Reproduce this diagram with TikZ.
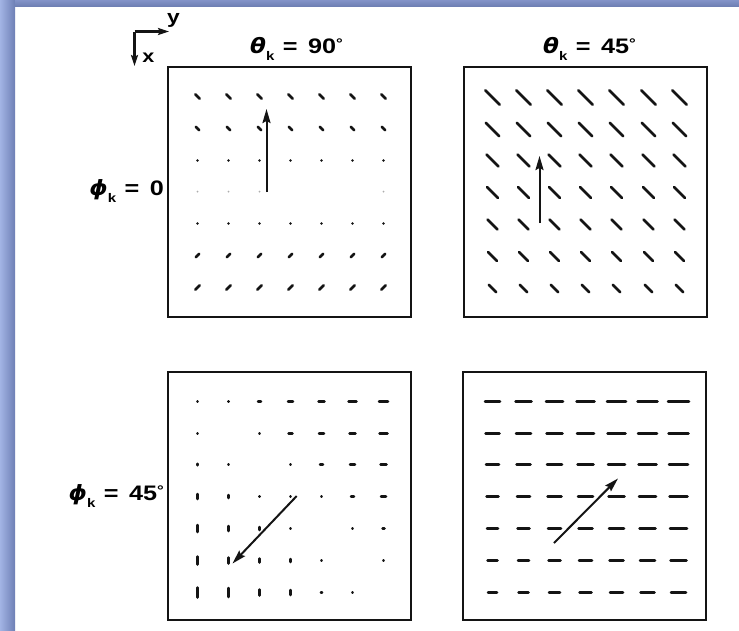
\documentclass[tikz,border=0pt]{standalone}
\usepackage{fontspec}
\setmainfont{Liberation Sans}
\newfontfamily\lab[FakeStretch=1.2]{Liberation Sans}
\newfontfamily\grk[FakeStretch=1.1]{DejaVu Sans}
\usetikzlibrary{arrows.meta}
\definecolor{bandL}{HTML}{A2B4E4}
\definecolor{bandD}{HTML}{6E7FB5}
\definecolor{topA}{HTML}{8393C8}
\definecolor{topB}{HTML}{6F80B4}
\definecolor{ink}{HTML}{141414}
\newcommand\degsym{\raisebox{4.5pt}{\fontsize{14}{14}\selectfont °}}
\newcommand\sublbl[2]{{\grk\bfseries\itshape #1}\raisebox{-7pt}{\lab\bfseries\fontsize{12.5}{12.5}\selectfont k}\hspace{0.4em}{\lab\bfseries =}\hspace{0.5em}{\lab\bfseries #2}}
\begin{document}
\begin{tikzpicture}[x=1pt,y=-1pt,
  frame/.style={draw=ink,line width=2pt},
  dsh/.style={draw=ink,line width=2.5pt,line cap=round},
  kvec/.style={draw=ink,line width=2pt,-{Stealth[length=14pt,width=8pt,inset=2pt]}},
  axis/.style={draw=ink,line width=2.2pt,-{Stealth[length=11pt,width=7pt,inset=2pt]}},
  txt/.style={inner sep=0pt,font=\lab\bfseries\fontsize{21}{21}\selectfont}]
\useasboundingbox (0,0) rectangle (739,630);
\fill[white] (0,0) rectangle (739,630);
\shade[left color=bandL,right color=bandD] (0,0) rectangle (15,630);
\shade[top color=topA,bottom color=topB] (15,0) rectangle (739,6);

% axes icon
\coordinate (o) at (134.5,31.5);
\coordinate (ye) at (169,31.5);
\coordinate (xe) at (134.5,66);
\draw[axis] (o) -- (ye);
\draw[axis] (o) -- (xe);
\node[inner sep=0pt,font=\lab\bfseries\fontsize{19}{19}\selectfont] (ylab) at (173.5,20) {y};
\node[inner sep=0pt,font=\lab\bfseries\fontsize{18}{18}\selectfont] (xlab) at (148.5,58) {x};

% labels
\node[txt,anchor=base] (t90) at (296.5,53) {\sublbl{θ}{90\degsym}};
\node[txt,anchor=base] (t45) at (589.5,53) {\sublbl{θ}{45\degsym}};
\node[txt,anchor=base east] (p0) at (164,195) {\sublbl{ϕ}{0}};
\node[txt,anchor=base east] (p45) at (164,500) {\sublbl{ϕ}{45\degsym}};

% frames
\draw[frame] (168,67) rectangle (411,317);
\draw[frame] (464,67) rectangle (707,317);
\draw[frame] (168,372) rectangle (411,620);
\draw[frame] (463,372) rectangle (706,620);

% top-left: theta=90, phi=0
\foreach \r/\h in {1/2.2,2/1.8,6/1.8,7/2.3}{
  \foreach \c in {1,...,7}{
    \pgfmathsetmacro\xx{round(196.7+31*(\c-1))+0.5}
    \pgfmathsetmacro\yy{round(96+31.8*(\r-1))+0.5}
    \pgfmathsetmacro\sg{\r<4 ? 1 : -1}
    \draw[dsh] (\xx-\h,\yy-\sg*\h) -- (\xx+\h,\yy+\sg*\h);
  }
}
\foreach \r in {3,5}{
  \foreach \c in {1,...,7}{
    \pgfmathsetmacro\xx{round(196.7+31*(\c-1))+0.5}
    \pgfmathsetmacro\yy{round(96+31.8*(\r-1))+0.5}
    \fill[ink] (\xx,\yy) circle (1.3pt);
  }
}
\foreach \c in {1,2,3,7}{
  \pgfmathsetmacro\xx{round(196.7+31*(\c-1))+0.5}
  \fill[ink!35] (\xx,191.5) circle (1pt);
}

% top-right: theta=45, phi=0
\foreach \r/\h in {1/7.3,2/6.8,3/6.1,4/5.5,5/5.0,6/4.4,7/3.7}{
  \foreach \c in {1,...,7}{
    \pgfmathsetmacro\xx{round(491.7+31.2*(\c-1))+0.5}
    \pgfmathsetmacro\yy{round(96.7+31.8*(\r-1))+0.5}
    \draw[dsh] (\xx-\h,\yy-\h) -- (\xx+\h,\yy+\h);
  }
}

% bottom-left: theta=90, phi=45 (positive = horizontal, negative = vertical, 0 = none)
\foreach \r/\row in {1/{0.3,0.5,3,5,6,8,9},
                     2/{0.3,0,0.4,4,5,6,8},
                     3/{-1.5,0.4,0,0.4,3,5,6},
                     4/{-5,-3,0.5,0.3,0.4,3,5},
                     5/{-7,-5,-3,0.4,0,0.4,2},
                     6/{-8,-6,-4,-3,0.4,0,0.4},
                     7/{-10,-9,-6,-5,1.2,0.4,0}}{
  \foreach \L [count=\c] in \row {
    \pgfmathsetmacro\xx{round(196.7+31*(\c-1))+0.5}
    \pgfmathsetmacro\yy{round(400.7+31.8*(\r-1))+0.5}
    \pgfmathsetmacro\hl{abs(\L)/2}
    \ifdim \L pt>0pt
      \draw[dsh] (\xx-\hl,\yy) -- (\xx+\hl,\yy);
    \else\ifdim \L pt<0pt
      \draw[dsh] (\xx,\yy-\hl) -- (\xx,\yy+\hl);
    \fi\fi
  }
}

% bottom-right: theta=45, phi=45
\foreach \r in {1,...,7}{
  \foreach \c in {1,...,7}{
    \pgfmathsetmacro\xx{round(491.7+31*(\c-1))+0.5}
    \pgfmathsetmacro\yy{round(400.7+31.8*(\r-1))+0.5}
    \pgfmathsetmacro\hl{(15+\c-\r)/2}
    \draw[dsh] (\xx-\hl,\yy) -- (\xx+\hl,\yy);
  }
}

% k vectors
\coordinate (a1s) at (266.5,192);  \coordinate (a1e) at (266.5,109);
\coordinate (a2s) at (539.5,223);  \coordinate (a2e) at (539.5,156);
\coordinate (a3s) at (296.7,496);  \coordinate (a3e) at (232.5,563.5);
\coordinate (a4s) at (554,543);    \coordinate (a4e) at (618,478.5);
\draw[kvec] (a1s) -- (a1e);
\draw[kvec] (a2s) -- (a2e);
\draw[kvec] (a3s) -- (a3e);
\draw[kvec] (a4s) -- (a4e);
\end{tikzpicture}
\end{document}
